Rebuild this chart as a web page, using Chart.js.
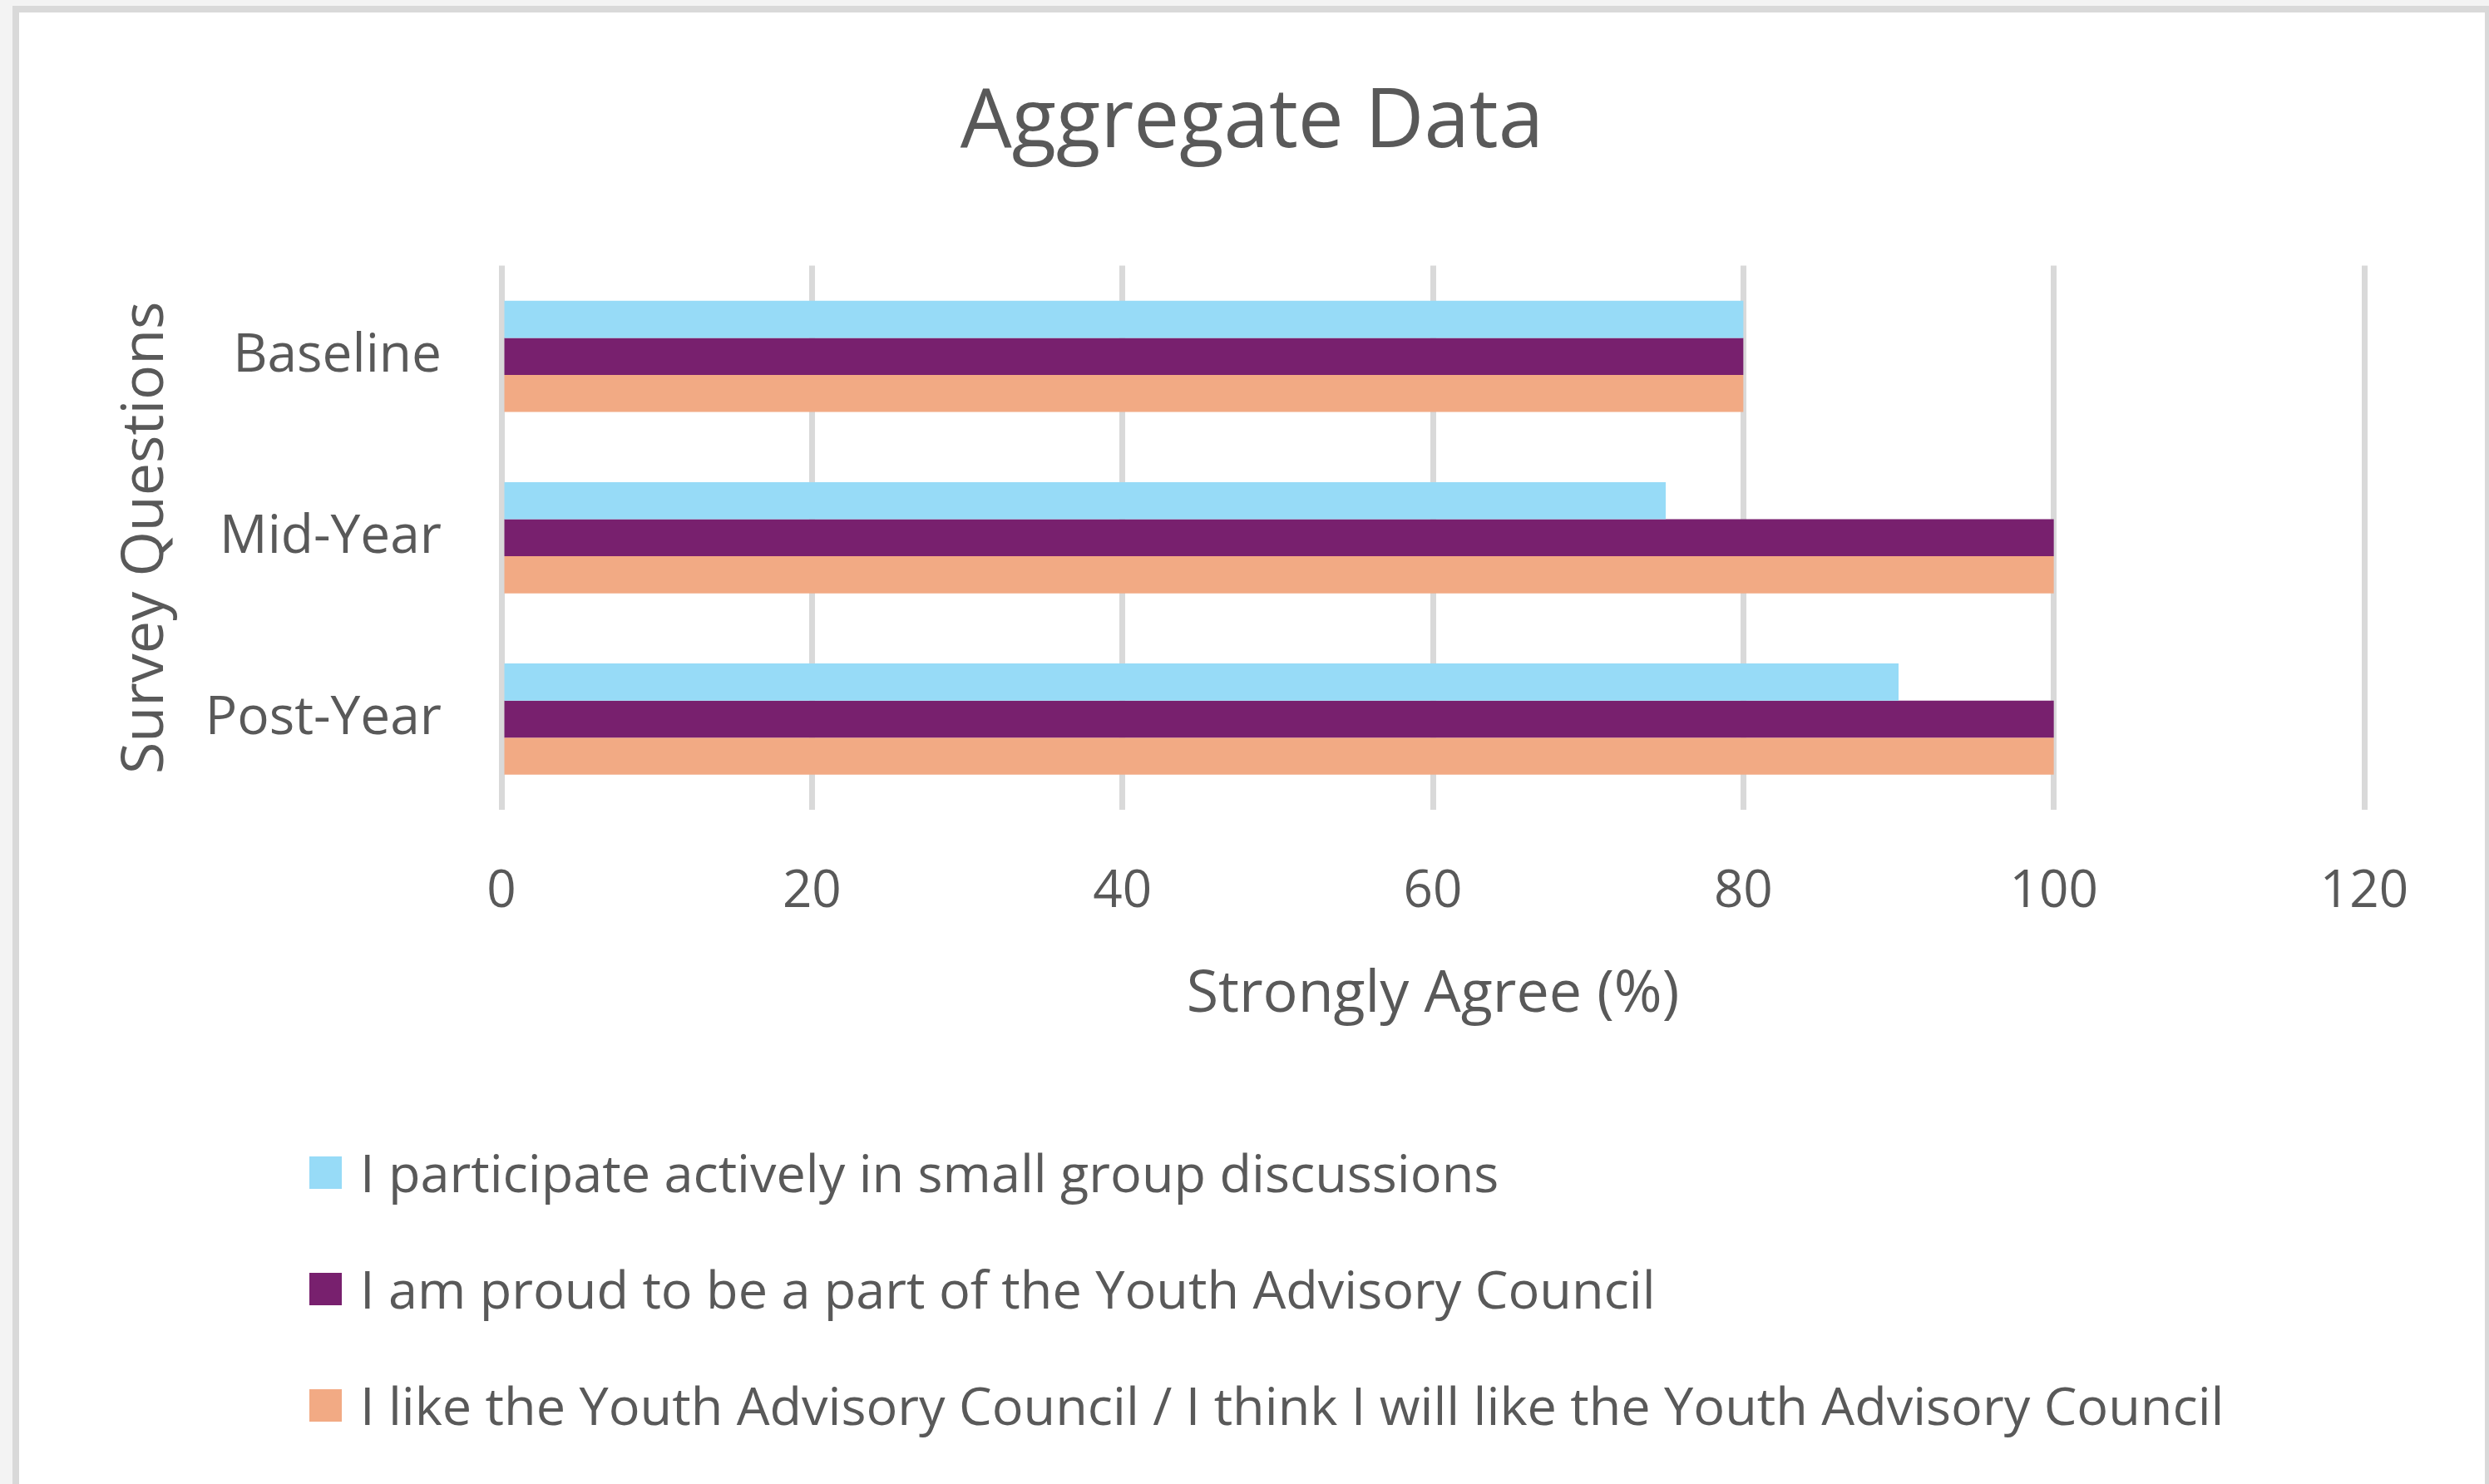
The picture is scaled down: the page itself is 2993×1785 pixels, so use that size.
<!DOCTYPE html>
<html>
<head>
<meta charset="utf-8">
<title>Aggregate Data</title>
<script src="https://cdn.jsdelivr.net/npm/chart.js@4"></script>
<style>
    html, body { margin: 0; padding: 0; }
    body {
        width: 2993px;
        height: 1785px;
        background: #f3f3f3;
        overflow: hidden;
        position: relative;
        font-family: "Open Sans", sans-serif;
    }
    #frame {
        position: absolute;
        left: 15px;
        top: 7px;
        width: 2965px;
        height: 1770px;
        border: 8px solid #d9d9d9;
        border-bottom: none;
        background: #ffffff;
    }
    #chart { display: block; }
    .legend-item {
        position: absolute;
        left: 349px;
        height: 80px;
        display: flex;
        align-items: center;
        white-space: nowrap;
    }
    .legend-box {
        width: 39px;
        height: 39px;
        margin-right: 22px;
        flex: none;
    }
    .legend-text {
        font-size: 63px;
        line-height: 80px;
        color: #595959;
    }
</style>
</head>
<body>
<div id="frame">
    <canvas id="chart" width="2965" height="1770"></canvas>
</div>
<script>
// data
const categories = ['Baseline', 'Mid-Year', 'Post-Year'];
const seriesNames = [
    'I participate actively in small group discussions',
    'I am proud to be a part of the Youth Advisory Council',
    'I like the Youth Advisory Council / I think I will like the Youth Advisory Council'
];
const participateValues = [80, 75, 90];
const proudValues = [80, 100, 100];
const likeValues = [80, 100, 100];
const xTicks = [0, 20, 40, 60, 80, 100, 120];

const seriesColors = ['#97dbf7', '#78206e', '#f2aa84'];
const textColor = '#595959';
const fontFamily = '"Open Sans", sans-serif';

const seriesValues = [participateValues, proudValues, likeValues];

const ctx = document.getElementById('chart').getContext('2d');
const chart = new Chart(ctx, {
    type: 'bar',
    data: {
        labels: categories,
        datasets: seriesNames.map((name, i) => ({
            label: name,
            data: seriesValues[i],
            backgroundColor: seriesColors[i],
            borderWidth: 0,
            categoryPercentage: 0.613,
            barPercentage: 1.0
        }))
    },
    options: {
        indexAxis: 'y',
        responsive: false,
        animation: false,
        devicePixelRatio: 1,
        layout: {
            padding: { left: 0, right: 0, top: 0, bottom: 511 }
        },
        plugins: {
            legend: { display: false },
            tooltip: { enabled: false },
            title: {
                display: true,
                text: 'Aggregate Data',
                color: textColor,
                font: { family: fontFamily, size: 98, weight: 'normal', lineHeight: 1.2 },
                padding: { top: 75, bottom: 112 }
            }
        },
        scales: {
            x: {
                min: 0,
                max: 120,
                afterBuildTicks: scale => {
                    scale.ticks = xTicks.map(v => ({ value: v }));
                },
                afterFit: scale => { scale.height = 300; },
                grid: {
                    color: '#d9d9d9',
                    lineWidth: 7,
                    drawTicks: false
                },
                border: { display: false },
                ticks: {
                    color: textColor,
                    padding: 62,
                    font: { family: fontFamily, size: 62, lineHeight: 1.2 }
                },
                title: {
                    display: true,
                    text: 'Strongly Agree (%)',
                    color: textColor,
                    font: { family: fontFamily, size: 70, lineHeight: 1.2 },
                    padding: { top: 0, bottom: 35 }
                }
            },
            y: {
                afterFit: scale => { scale.width = 580; },
                grid: { display: false, drawTicks: false },
                border: { display: false },
                ticks: {
                    color: textColor,
                    padding: 72,
                    font: { family: fontFamily, size: 64, lineHeight: 1.2 }
                },
                title: {
                    display: true,
                    text: 'Survey Questions',
                    color: textColor,
                    font: { family: fontFamily, size: 70, lineHeight: 1.2 },
                    padding: { top: 111, bottom: 0 }
                }
            },
            // empty right-hand axis, only keeps the white margin right of the plot
            // so the title stays centred on the whole chart
            yRight: {
                type: 'category',
                position: 'right',
                afterFit: scale => { scale.width = 145; },
                grid: { display: false, drawTicks: false },
                border: { display: false },
                ticks: { display: false }
            }
        }
    }
});

// legend as a vertical list under the plot, built from the datasets
const frame = document.getElementById('frame');
const rowCenters = [1395, 1535, 1675];
chart.data.datasets.forEach((ds, i) => {
    const item = document.createElement('div');
    item.className = 'legend-item';
    item.style.top = (rowCenters[i] - 40) + 'px';

    const box = document.createElement('div');
    box.className = 'legend-box';
    box.style.background = ds.backgroundColor;

    const text = document.createElement('span');
    text.className = 'legend-text';
    text.textContent = ds.label;

    item.appendChild(box);
    item.appendChild(text);
    frame.appendChild(item);
});
</script>
</body>
</html>
